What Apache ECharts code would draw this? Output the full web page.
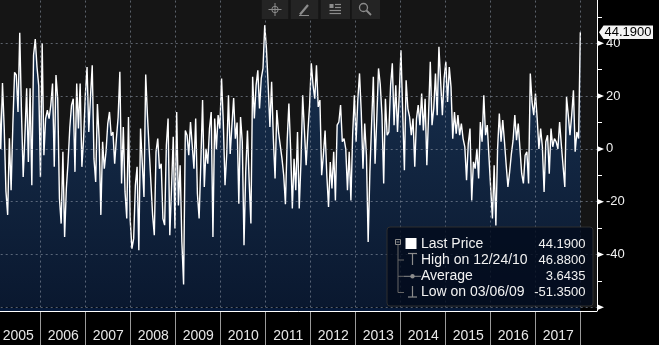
<!DOCTYPE html>
<html>
<head>
<meta charset="utf-8">
<script src="https://cdn.jsdelivr.net/npm/echarts@6/dist/echarts.min.js"></script>
<style>
  html, body { margin: 0; padding: 0; background: #000; }
  #chart { width: 659px; height: 345px; }
</style>
</head>
<body>
<div id="chart"></div>
<script>
// Series sampled every two weeks, starting on a Friday.
const firstDate = '2005-01-28';
const stepDays = 14;

const yearLabels = ['2005', '2006', '2007', '2008', '2009', '2010', '2011',
                    '2012', '2013', '2014', '2015', '2016', '2017'];
const yTickLabels = [-40, -20, 0, 20, 40];

const values = [
  21, 0, 25, 8, -16, -25, 4, -15.7, 9, 29,
  28, 14, 44, 14, -10.6, 5, 23, -5, 23, -13.8,
  35.5, 41.6, 31, 24, -10.6, 40, -2.4, 11.5, 14.7, 11.5,
  16.6, 24.8, -6.8, 28, 19, -18.8, -28.3, -1.1, -33.4, -15,
  -4.9, 8, 16.6, 19, -8.7, 24.8, 7.7, 24.8, -6.8, 3.9,
  20.3, 31, 6.4, 20, 31.7, -3.7, -12.5, 17, 4, -25,
  2.7, -7.5, -1, 9.6, 14, 5, 6.4, -5.6, 3.9, 12,
  29.2, -13.1, 8.3, -16.3, -26.4, 12.1, -27, -37.8, -34, -13.8,
  -6.8, -38.4, 7.7, 8.3, -18.2, 28.2, 12.8, 0, -12.5, -25,
  -32.7, -1.1, 3.9, -7.5, -5.6, -26.4, -28.9, 1.4, 11.5, -32.7,
  -15, 4.6, -30.2, 14, -21.4, -6.2, -35.3, -51.35, 7, 5.2,
  -2.4, 10.2, 10.9, -7.5, 11.5, -17, -26.4, -4.9, 18.5, -14.4,
  0, -5.6, 7.7, 14, -33.4, 11.5, 0, 12.8, 7.7, 26.7,
  10, -13.8, -1.9, 20.3, -1.9, 9, 19.3, 3.9, 10, -20.8,
  12.1, 2.7, -36.5, -8.7, 7, -12.5, -28.3, 27.3, 11.5, 24.1,
  29.8, 15.3, 26.7, 30.5, 46.88, 38, 24.1, 8.3, 25.4, 3.9,
  -11.2, 14.7, 6.4, 7, -3.7, -10, -21, 3, 17.2, 0,
  -22.6, -3.7, -15.7, 6.4, -22.6, -5, 20.3, 7, -6.2, 6.4,
  16.6, 32.4, 24.1, 19, 31.7, 15.9, 18.5, -10, -2.4, 7,
  -10, -22, -5, -15, -1.1, -19.5, 9, 10.2, 16.6, 2.7,
  3.9, 0, -15.7, -1.1, -19.5, 5.2, 20.3, 2.7, 18.5, 28.6,
  14, -7.5, 9.6, -2.4, -35.3, -8.7, 9.6, 27.3, -5.6, 11.5,
  30.5, 24.5, 12.8, -13.1, 19, 5.2, 6.4, 24.1, 32.4, 9,
  24.1, 6.4, 20.3, 37.4, 14, -8.1, 26, 15.3, 12.1, 5.2,
  11.5, -6.8, 11.5, 16.6, 9, 21, 7, 19, -6.2, 12.8,
  33, 9, 15.3, 28.6, 12.8, 38.7, 25.4, 12.8, 26.7, 33,
  17.8, 31, 23.5, 3.9, 14, 5.8, 12.8, 5.2, 9.6, 3.9,
  0.8, -11.9, 2, 7.7, -19.5, -4.9, -7.5, 0, -11.2, 10.2,
  2.7, 20.3, 5.2, 9, -3.2, -15, -26.4, -6.2, -29, 0,
  13.4, 2.7, 10.9, 2.7, -6.2, -14.4, -8.7, -1.9, 3.3, 12.8,
  3.3, 9.6, 0, -9.4, -13.1, -2.4, -1.1, -13.1, 28.6, 17.8,
  12.8, 21, 11.5, 0, 7.7, 0.8, -16.3, 2.7, 5.2, -9.4,
  7.7, 0.8, 3.9, 2.7, 0, 10.2, 1.4, 2, -14.4, 19.7,
  12.8, 5.2, 12.8, 22.2, -1.1, 6.4, 3.9, 44.19
];

const statedAverage = 3.6435;

const FONT = '"Liberation Sans", Arial, sans-serif';
const YEAR_FONT = '"Liberation Sans Narrow", "Liberation Sans", Arial, sans-serif';
const DAY = 86400000;

// ---- dates and decimal-year positions ----
const [fy, fm, fd] = firstDate.split('-').map(Number);
const t0 = Date.UTC(fy, fm - 1, fd);
const dates = values.map((_, i) => new Date(t0 + i * stepDays * DAY));
function decimalYear(d) {
  const y = d.getUTCFullYear();
  const a = Date.UTC(y, 0, 1), b = Date.UTC(y + 1, 0, 1);
  return y + (d.getTime() - a) / (b - a);
}
function fmtDate(d) {
  const p = n => String(n).padStart(2, '0');
  return p(d.getUTCMonth() + 1) + '/' + p(d.getUTCDate()) + '/' + p(d.getUTCFullYear() % 100);
}
const seriesData = values.map((v, i) => [decimalYear(dates[i]), v]);

// ---- summary statistics for the legend ----
let hiIdx = 0, loIdx = 0;
values.forEach((v, i) => {
  if (v > values[hiIdx]) hiIdx = i;
  if (v < values[loIdx]) loIdx = i;
});
const lastValue = values[values.length - 1];

const chart = echarts.init(document.getElementById('chart'), null, { renderer: 'canvas' });

const gridColor = 'rgba(140,150,165,0.6)';
const areaTop = '#1d426f';
const areaBottom = '#05193a';

const option = {
  backgroundColor: '#000',
  animation: false,
  grid: [
    { left: -4.3, right: 62, top: -9.45, bottom: 37.75, show: true,
      backgroundColor: '#151515', borderWidth: 0, outerBoundsMode: 'none' },
    { left: -4.3, width: 585, top: 311, height: 34, outerBoundsMode: 'none' }
  ],
  xAxis: [
    {
      type: 'value', gridIndex: 0, min: 2005, max: 2018.362, interval: 1,
      offset: 3.75, z: 3,
      axisLine: { show: true, onZero: false, lineStyle: { color: '#fff', width: 1 } },
      axisTick: { show: false },
      axisLabel: { show: false },
      splitLine: { show: true, lineStyle: { color: gridColor, type: [2, 3], width: 1 } }
    },
    {
      type: 'category', gridIndex: 1, data: yearLabels, position: 'top', boundaryGap: true,
      axisLine: { show: false },
      axisTick: { show: false },
      axisLabel: { inside: true, interval: 0, margin: 25.5, verticalAlign: 'middle',
                   color: '#e6e6e6', fontSize: 14, fontFamily: YEAR_FONT },
      splitLine: { show: true, interval: 0, lineStyle: { color: '#9a9a9a', width: 1 } }
    }
  ],
  yAxis: [
    {
      type: 'value', gridIndex: 0, position: 'right', min: -60, max: 60, interval: 20, z: 3,
      axisLine: { show: true, onZero: false, lineStyle: { color: '#fff', width: 1 } },
      axisTick: { show: false },
      minorTick: { show: true, splitNumber: 2, length: 5, lineStyle: { color: '#fff', width: 1 } },
      minorSplitLine: { show: false },
      axisLabel: {
        margin: 9, color: '#f0f0f0', fontSize: 13, fontFamily: FONT,
        formatter: v => (yTickLabels.indexOf(v) >= 0 ? String(v) : '')
      },
      splitLine: { show: true, lineStyle: { color: gridColor, type: [2, 3], width: 1 } }
    },
    { type: 'value', gridIndex: 1, show: false }
  ],
  series: [{
    type: 'line', xAxisIndex: 0, yAxisIndex: 0, data: seriesData,
    symbol: 'none', z: 1,
    lineStyle: { color: '#ffffff', width: 1.4 },
    areaStyle: {
      origin: 'start',
      color: new echarts.graphic.LinearGradient(0, 0, 0, 310, [
        { offset: 0, color: areaTop },
        { offset: 1, color: areaBottom }
      ], true)
    }
  }]
};
chart.setOption(option);

// ---- overlays positioned through the axes ----
const toPx = (x, y) => chart.convertToPixel({ gridIndex: 0 }, [x, y]);
const axisX = toPx(2018.362, 0)[0];
const lastPt = toPx(seriesData[seriesData.length - 1][0], lastValue);
const bottomY = toPx(2005, -60)[1];
const xAxisY = 311;

const g = [];
const iconGray = '#8c8c8c';

// navy strip between the lowest gridline and the time axis
g.push({ type: 'rect', z: 0, shape: { x: 0, y: bottomY + 0.5, width: lastPt[0], height: xAxisY - bottomY - 0.5 },
         style: { fill: areaBottom } });
// value axis line carried down to the time axis
g.push({ type: 'line', z: 20, shape: { x1: axisX + 0.5, y1: bottomY, x2: axisX + 0.5, y2: xAxisY }, style: { stroke: '#fff', lineWidth: 1 } });

// arrow-shaped major ticks on the value axis
[-60, -40, -20, 0, 20, 40].forEach(v => {
  const y = toPx(2005, v)[1];
  g.push({ type: 'polygon', z: 20, shape: { points: [[axisX, y - 3], [axisX + 7, y], [axisX, y + 3]] },
           style: { fill: '#fff' } });
});

// last-value tag on the axis
const ly = lastPt[1];
g.push({ type: 'polygon', z: 30,
         shape: { points: [[axisX + 2, ly], [axisX + 6.5, ly - 6.8], [653, ly - 6.8], [653, ly + 6.8], [axisX + 6.5, ly + 6.8]] },
         style: { fill: '#f4f4f4' } });
g.push({ type: 'text', z: 31, x: axisX + 7.5, y: ly + 0.5,
         style: { text: lastValue.toFixed(4), fill: '#000', font: '13px ' + FONT, align: 'left', verticalAlign: 'middle' } });

// legend panel
const lx = 387, lyTop = 227;
g.push({ type: 'rect', z: 40, shape: { x: lx, y: lyTop, width: 206, height: 79, r: 3 },
         style: { fill: 'rgba(2,11,28,0.82)', stroke: '#2e2e2e', lineWidth: 1 } });
const rows = [244.3, 260, 276.3, 292.5];
// tree connector
g.push({ type: 'rect', z: 41, shape: { x: 395.5, y: 239.5, width: 5, height: 5 },
         style: { fill: 'none', stroke: iconGray, lineWidth: 1 } });
g.push({ type: 'line', z: 41, shape: { x1: 396.5, y1: 242, x2: 399.5, y2: 242 }, style: { stroke: iconGray, lineWidth: 1 } });
g.push({ type: 'line', z: 41, shape: { x1: 398, y1: 244.5, x2: 398, y2: rows[3] }, style: { stroke: '#666', lineWidth: 1 } });
[rows[1], rows[2], rows[3]].forEach(y => {
  g.push({ type: 'line', z: 41, shape: { x1: 398, y1: y, x2: 404, y2: y }, style: { stroke: '#666', lineWidth: 1 } });
});
// series swatch
g.push({ type: 'rect', z: 41, shape: { x: 405.5, y: 238, width: 11, height: 11 }, style: { fill: '#fff' } });
// high marker
g.push({ type: 'line', z: 41, shape: { x1: 408, y1: 253.5, x2: 417, y2: 253.5 }, style: { stroke: iconGray, lineWidth: 1.2 } });
g.push({ type: 'line', z: 41, shape: { x1: 412.5, y1: 253.5, x2: 412.5, y2: 265 }, style: { stroke: iconGray, lineWidth: 1.2 } });
// average marker
g.push({ type: 'line', z: 41, shape: { x1: 404, y1: rows[2], x2: 421, y2: rows[2] }, style: { stroke: iconGray, lineWidth: 1 } });
g.push({ type: 'circle', z: 42, shape: { cx: 412.5, cy: rows[2], r: 2.2 }, style: { fill: iconGray } });
// low marker
g.push({ type: 'line', z: 41, shape: { x1: 412.5, y1: 286, x2: 412.5, y2: 297 }, style: { stroke: iconGray, lineWidth: 1.2 } });
g.push({ type: 'line', z: 41, shape: { x1: 408, y1: 297, x2: 417, y2: 297 }, style: { stroke: iconGray, lineWidth: 1.2 } });

const legendRows = [
  ['Last Price', lastValue],
  ['High on ' + fmtDate(dates[hiIdx]), values[hiIdx]],
  ['Average', statedAverage],
  ['Low on ' + fmtDate(dates[loIdx]), values[loIdx]]
];
legendRows.forEach((r, k) => {
  g.push({ type: 'text', z: 42, x: 421, y: rows[k],
           style: { text: r[0], fill: '#f2f2f2', font: '14px ' + FONT, align: 'left', verticalAlign: 'middle' } });
  g.push({ type: 'text', z: 42, x: 585.5, y: rows[k],
           style: { text: r[1].toFixed(4), fill: '#f2f2f2', font: '13px ' + FONT, align: 'right', verticalAlign: 'middle' } });
});

// toolbar buttons
const buttons = [[261.7, 26.6], [290.7, 27.6], [320.7, 29.3], [351.7, 28.3]];
buttons.forEach(b => {
  g.push({ type: 'rect', z: 50, shape: { x: b[0], y: 0, width: b[1], height: 19 }, style: { fill: '#242424' } });
});
// crosshair
g.push({ type: 'circle', z: 51, shape: { cx: 275, cy: 9.5, r: 3.2 }, style: { fill: 'none', stroke: iconGray, lineWidth: 1 } });
g.push({ type: 'line', z: 51, shape: { x1: 268.5, y1: 9.5, x2: 281.5, y2: 9.5 }, style: { stroke: iconGray, lineWidth: 1 } });
g.push({ type: 'line', z: 51, shape: { x1: 275, y1: 3, x2: 275, y2: 16 }, style: { stroke: iconGray, lineWidth: 1 } });
// pencil
g.push({ type: 'line', z: 51, shape: { x1: 300, y1: 14.5, x2: 308, y2: 5 }, style: { stroke: iconGray, lineWidth: 2.2 } });
g.push({ type: 'line', z: 51, shape: { x1: 299, y1: 15.5, x2: 309, y2: 15.5 }, style: { stroke: iconGray, lineWidth: 1 } });
// list
g.push({ type: 'rect', z: 51, shape: { x: 329.5, y: 4, width: 4, height: 4 }, style: { fill: iconGray } });
[[335, 4.5], [335, 7.5], [329.5, 10.5], [329.5, 13.5]].forEach(p => {
  g.push({ type: 'line', z: 51, shape: { x1: p[0], y1: p[1], x2: 341, y2: p[1] }, style: { stroke: iconGray, lineWidth: 1.2 } });
});
// magnifier
g.push({ type: 'circle', z: 51, shape: { cx: 363.5, cy: 7.5, r: 4 }, style: { fill: 'none', stroke: iconGray, lineWidth: 1.3 } });
g.push({ type: 'line', z: 51, shape: { x1: 366.5, y1: 10.5, x2: 371, y2: 15 }, style: { stroke: iconGray, lineWidth: 1.8 } });

chart.setOption({ graphic: { elements: g } });
</script>
</body>
</html>
